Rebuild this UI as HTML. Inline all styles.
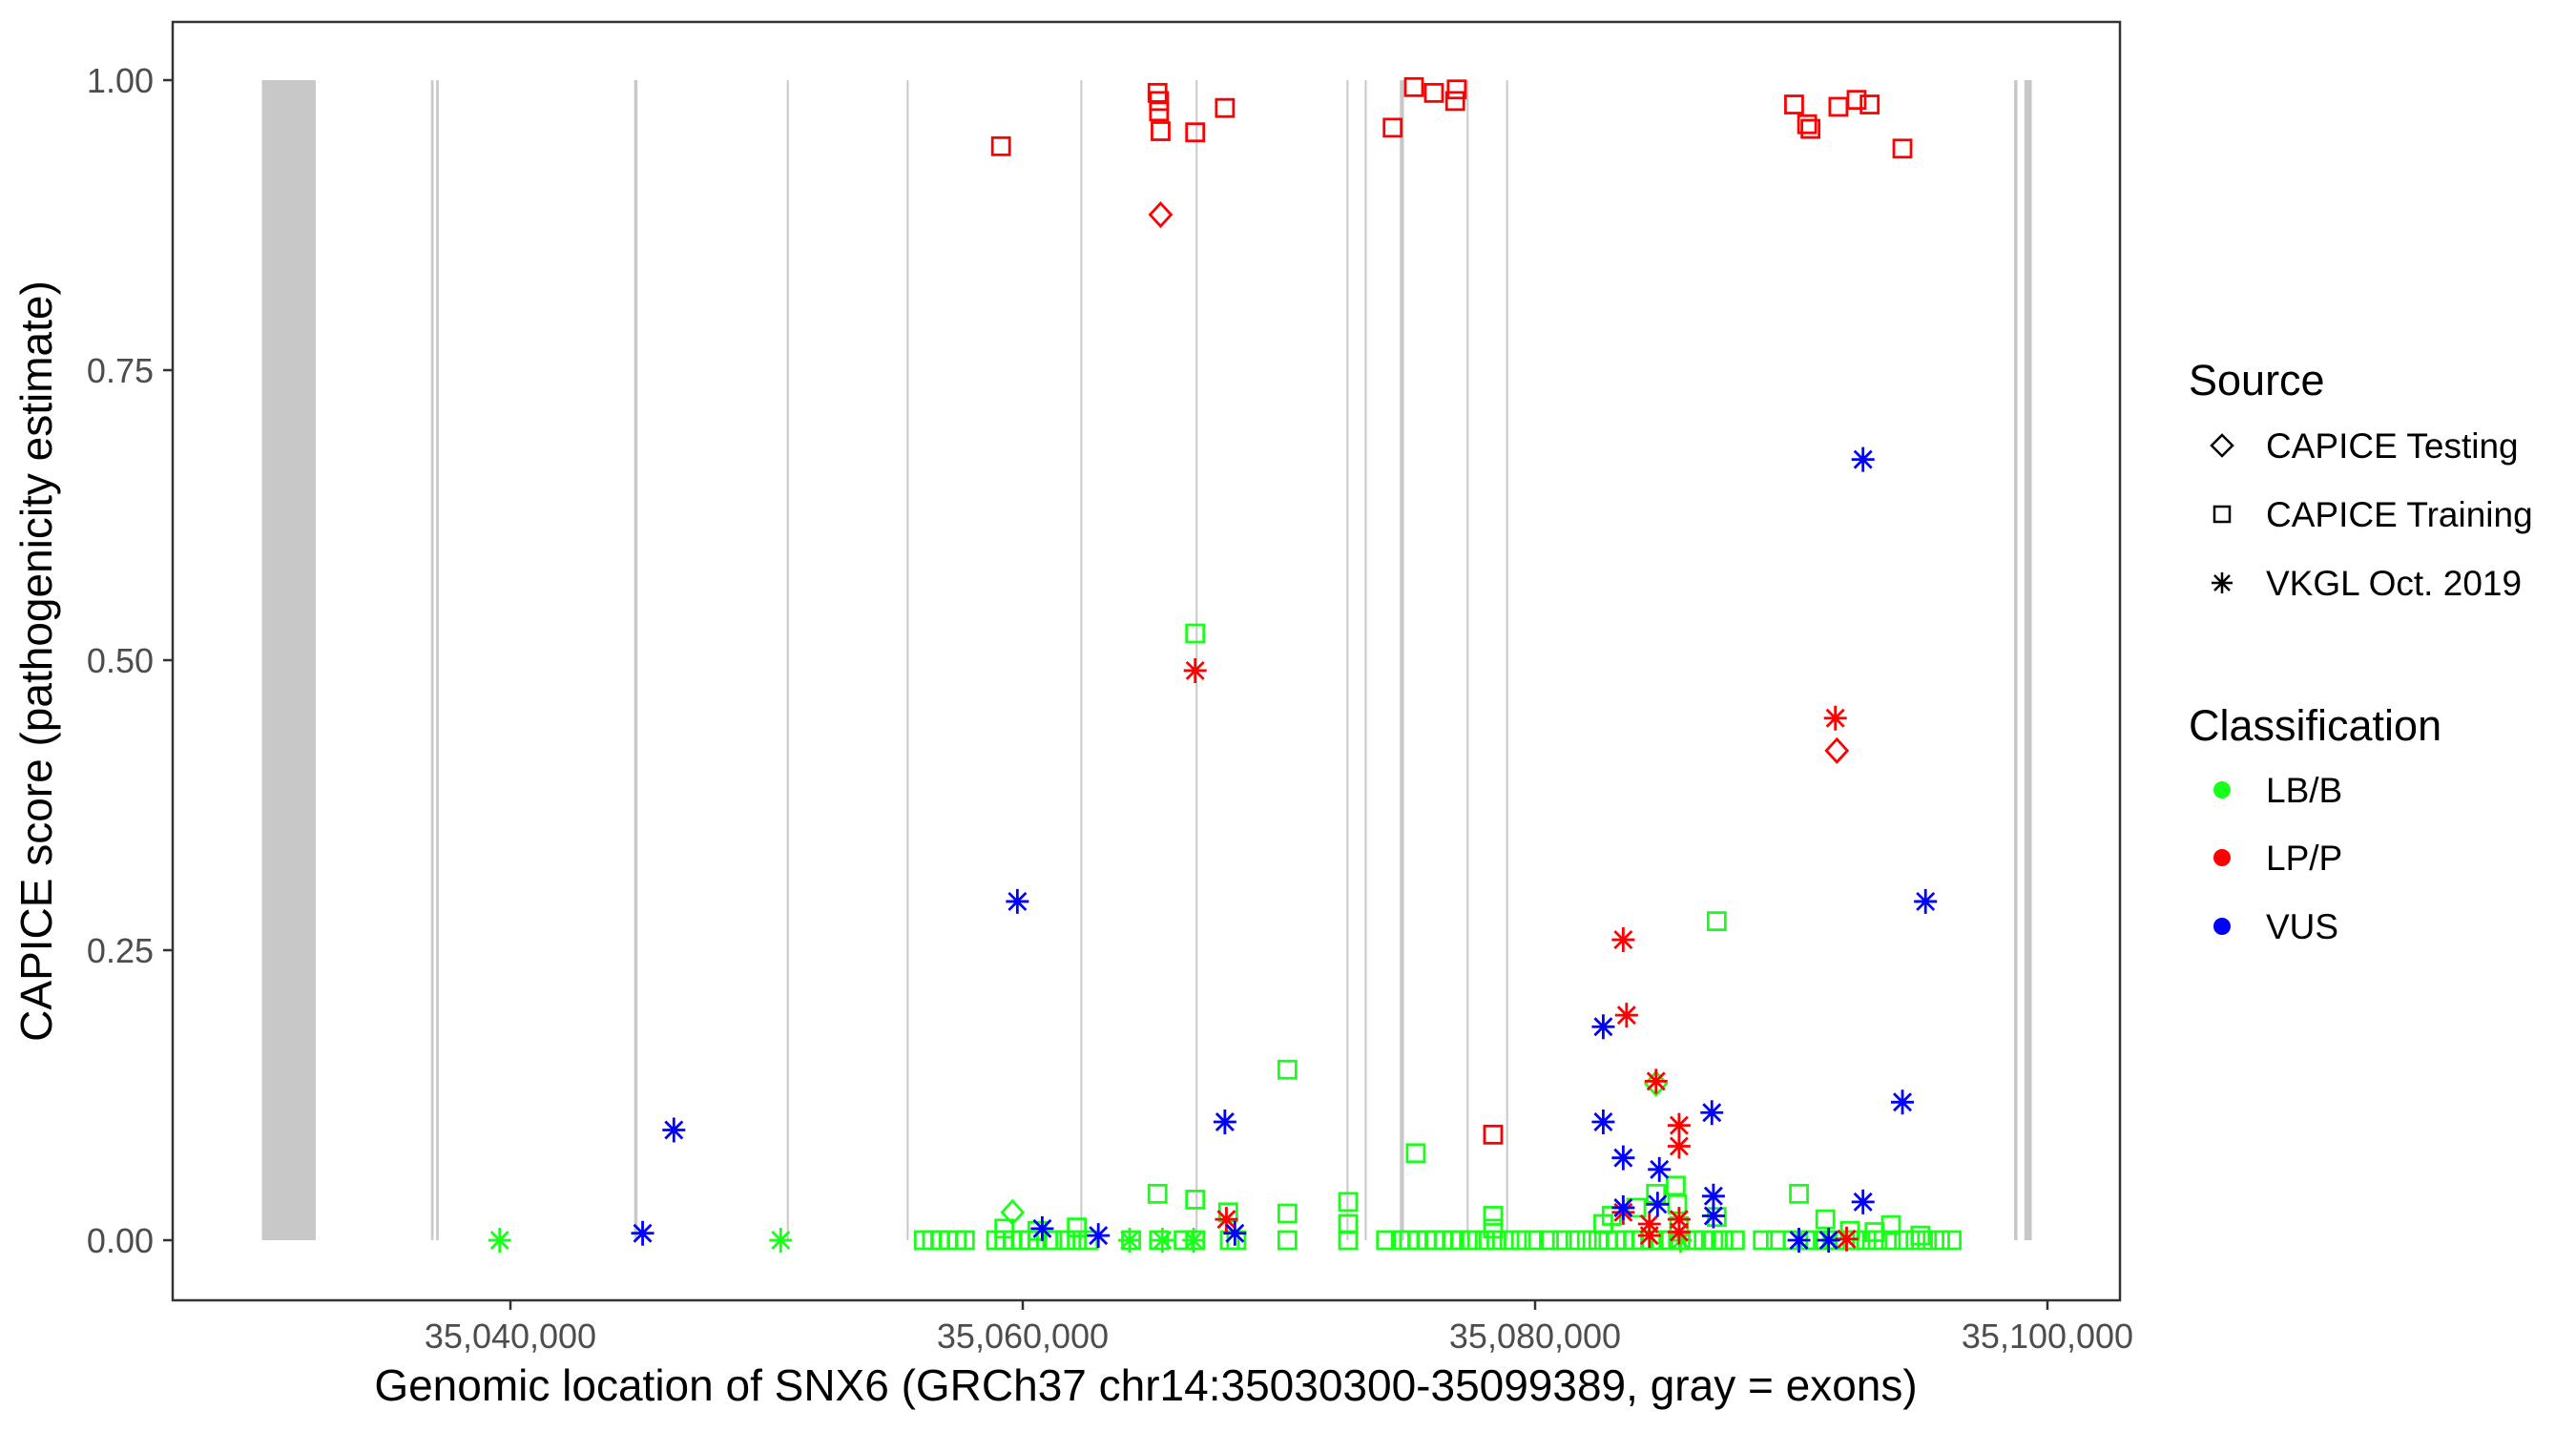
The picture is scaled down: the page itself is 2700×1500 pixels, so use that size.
<!DOCTYPE html>
<html><head><meta charset="utf-8"><style>
html,body{margin:0;padding:0;background:#fff;}
svg{display:block;font-family:"Liberation Sans",Arial,sans-serif;}
</style></head><body>
<svg id="chart" width="2700" height="1500" viewBox="0 0 2700 1500" xmlns="http://www.w3.org/2000/svg">
<rect width="2700" height="1500" fill="#fff"/>
<g id="exons"></g>
<g id="points"></g>
<rect x="181" y="23" width="2041" height="1340" fill="none" stroke="#333" stroke-width="2.5"/>
<g id="axes"></g>
<text x="1201" y="1468" font-size="46" text-anchor="middle" fill="#000">Genomic location of SNX6 (GRCh37 chr14:35030300-35099389, gray = exons)</text>
<text transform="translate(54,693) rotate(-90)" font-size="46" text-anchor="middle" fill="#000">CAPICE score (pathogenicity estimate)</text>
<g id="legend">
<text x="2294" y="414" font-size="45" fill="#000">Source</text>
<g>
<path d="M2329,456 L2340,467 L2329,478 L2318,467 Z" fill="none" stroke="#000" stroke-width="2.5"/>
<text x="2375" y="480" font-size="37" fill="#000">CAPICE Testing</text></g>
<g>
<rect x="2321" y="531" width="16" height="16" fill="none" stroke="#000" stroke-width="2.5"/>
<text x="2375" y="552" font-size="37" fill="#000">CAPICE Training</text></g>
<g>
<path d="M2329,600 V622 M2318,611 H2340 M2321,603 L2337,619 M2337,603 L2321,619" stroke="#000" stroke-width="2.5"/>
<text x="2375" y="624" font-size="37" fill="#000">VKGL Oct. 2019</text></g>
<text x="2294" y="776" font-size="45" fill="#000">Classification</text>
<g><circle cx="2329" cy="828" r="9" fill="#1aff1a"/><text x="2375" y="841" font-size="37" fill="#000">LB/B</text></g>
<g><circle cx="2329" cy="899" r="9" fill="#ff0000"/><text x="2375" y="912" font-size="37" fill="#000">LP/P</text></g>
<g><circle cx="2329" cy="971" r="9" fill="#0000ff"/><text x="2375" y="984" font-size="37" fill="#000">VUS</text></g>
</g>
</svg>
<script>
// exon coordinates (bp)
const exonStart = [35030300,35036900,35037100,35044830,35050790,35055470,35062250,35066750,35072640,35073350,35074720,35077330,35078870,35098700,35099100];
const exonEnd   = [35032400,35037000,35037200,35044960,35050830,35055510,35062310,35066810,35072700,35073410,35074880,35077390,35078930,35098830,35099389];
// axis ticks
const xTicks = [35040000,35060000,35080000,35100000];
const xTickLabels = ["35,040,000","35,060,000","35,080,000","35,100,000"];
const yTicks = [0,0.25,0.5,0.75,1];
const yTickLabels = ["0.00","0.25","0.50","0.75","1.00"];
// positions in kb, scores
const trainLBpos = [35056.14,35056.46,35056.78,35057.10,35057.42,35057.74,35058.96,35059.28,35059.60,35059.92,35060.24,35060.57,35061.15,35061.66,35062.11,35062.56,35064.23,35065.32,35066.28,35066.73,35068.08,35068.34,35070.33,35072.70,35074.18,35074.76,35075.08,35075.40,35075.79,35076.11,35076.43,35076.75,35077.07,35077.52,35078.04,35078.49,35079.00,35079.45,35079.96,35080.54,35081.05,35081.57,35082.02,35082.47,35082.86,35083.18,35083.50,35083.82,35084.14,35084.53,35084.91,35085.30,35085.68,35086.19,35086.58,35086.96,35087.35,35087.80,35088.89,35089.40,35090.05,35090.56,35090.94,35091.33,35091.72,35092.10,35092.48,35092.93,35093.37,35093.89,35094.40,35094.85,35095.30,35095.81,35096.26,
 35066.73,35070.33,35075.34,35087.09,35062.11,35065.26,35066.73,35068.02,35070.33,35072.70,35072.70,35078.36,35078.36,35084.72,35085.49,35085.55,35090.30,35091.33,35092.29,35093.89,35093.25,35095.04,35082.66,35082.99,35083.95,35059.28,35060.57,35087.09,35085.62];
const trainLBscore = [0,0,0,0,0,0,0,0,0,0,0,0,0,0,0,0,0,0,0,0,0,0,0,0,0,0,0,0,0,0,0,0,0,0,0,0,0,0,0,0,0,0,0,0,0,0,0,0,0,0,0,0,0,0,0,0,0,0,0,0,0,0,0,0,0,0,0,0,0,0,0,0,0,0,0,
 0.523,0.147,0.075,0.275,0.011,0.040,0.035,0.024,0.023,0.033,0.014,0.021,0.010,0.040,0.047,0.031,0.040,0.018,0.008,0.013,0.007,0.004,0.014,0.021,0.028,0.010,0.008,0.020,0.012];
const testLBpos = [35059.60,35084.72];
const testLBscore = [0.024,0.135];
const trainLPpos = [35059.15,35065.26,35065.32,35065.32,35065.38,35066.73,35067.89,35074.44,35075.27,35076.05,35076.88,35076.94,35090.11,35090.62,35090.75,35091.84,35092.55,35093.06,35094.34,35078.36];
const trainLPscore = [0.943,0.989,0.982,0.973,0.956,0.955,0.976,0.959,0.994,0.989,0.982,0.992,0.979,0.962,0.958,0.977,0.983,0.979,0.941,0.091];
const testLPpos = [35065.38,35091.78];
const testLPscore = [0.884,0.422];
const vkglLPpos = [35066.73,35091.72,35083.44,35083.57,35084.72,35085.62,35085.62,35083.44,35084.46,35084.46,35085.62,35067.95,35092.16,35085.62];
const vkglLPscore = [0.491,0.450,0.259,0.194,0.137,0.099,0.081,0.024,0.014,0.004,0.018,0.018,0.001,0.007];
const vkglVUSpos = [35059.79,35046.38,35045.16,35092.80,35095.24,35094.34,35082.66,35082.66,35083.44,35084.85,35086.90,35067.89,35086.96,35083.44,35084.78,35092.80,35090.30,35091.46,35060.76,35062.95,35068.28,35086.96];
const vkglVUSscore = [0.292,0.095,0.006,0.673,0.292,0.119,0.184,0.102,0.071,0.061,0.110,0.102,0.038,0.028,0.031,0.033,0,0,0.010,0.004,0.006,0.021];
const vkglLBpos = [35039.58,35050.55,35065.45,35064.17,35066.67,35085.68];
const vkglLBscore = [0,0,0,0,0,0];
</script>
<script>
const NS = "http://www.w3.org/2000/svg";
const X0 = 535, PXPERBP = 537/20000;
function xScale(bp){ return X0 + (bp - 35040000) * PXPERBP; }
function yScale(v){ return 1300 - v * 1216; }
function mk(tag, attrs, parent){
  const e = document.createElementNS(NS, tag);
  for (const k in attrs) e.setAttribute(k, attrs[k]);
  parent.appendChild(e); return e;
}
const exG = document.getElementById('exons');
for (let i=0;i<exonStart.length;i++){
  const x1 = xScale(exonStart[i]), x2 = xScale(exonEnd[i]);
  const r = mk('rect', {x:x1, y:yScale(1), width:Math.max(2, x2-x1), height:yScale(0)-yScale(1), fill:'#c8c8c8'}, exG);
  
  
}
const ax = document.getElementById('axes');
for (let i=0;i<xTicks.length;i++){
  const x = xScale(xTicks[i]);
  const t = mk('line', {x1:x, x2:x, y1:1363, y2:1373, stroke:'#333', 'stroke-width':2.5}, ax);
  
  
  const l = mk('text', {x:x, y:1413, 'font-size':36, 'text-anchor':'middle', fill:'#4d4d4d'}, ax);
  l.textContent = xTickLabels[i];
  
  
}
for (let i=0;i<yTicks.length;i++){
  const y = yScale(yTicks[i]);
  const t = mk('line', {x1:171, x2:181, y1:y, y2:y, stroke:'#333', 'stroke-width':2.5}, ax);
  
  
  const l = mk('text', {x:161, y:y+13, 'font-size':36, 'text-anchor':'end', fill:'#4d4d4d'}, ax);
  l.textContent = yTickLabels[i];
  
  
}
const pg = document.getElementById('points');
function drawSquare(pos, sc, color){
  for (let i=0;i<pos.length;i++){
    const cx = xScale(pos[i]*1000), cy = yScale(sc[i]);
    const r = mk('rect', {x:cx-9, y:cy-9, width:18, height:18, fill:'none', stroke:color, 'stroke-width':2.8}, pg);
    
    
  }
}
function drawDiamond(pos, sc, color){
  for (let i=0;i<pos.length;i++){
    const cx = xScale(pos[i]*1000), cy = yScale(sc[i]);
    const p = mk('path', {d:`M${cx},${cy-12} L${cx+11},${cy} L${cx},${cy+12} L${cx-11},${cy} Z`, fill:'none', stroke:color, 'stroke-width':2.8}, pg);
    
    
  }
}
function drawStar(pos, sc, color){
  for (let i=0;i<pos.length;i++){
    const cx = xScale(pos[i]*1000), cy = yScale(sc[i]);
    const p = mk('path', {d:`M${cx},${cy-13} V${cy+13} M${cx-12},${cy} H${cx+12} M${cx-9},${cy-9} L${cx+9},${cy+9} M${cx+9},${cy-9} L${cx-9},${cy+9}`, stroke:color, 'stroke-width':2.8, fill:'none'}, pg);
    
    
  }
}
const G='#1aff1a', R='#ff0000', B='#0000ff';
drawSquare(trainLBpos, trainLBscore, G);
drawDiamond(testLBpos, testLBscore, G);
drawStar(vkglLBpos, vkglLBscore, G);
drawSquare(trainLPpos, trainLPscore, R);
drawDiamond(testLPpos, testLPscore, R);
drawStar(vkglLPpos, vkglLPscore, R);
drawStar(vkglVUSpos, vkglVUSscore, B);
</script>
</body></html>
